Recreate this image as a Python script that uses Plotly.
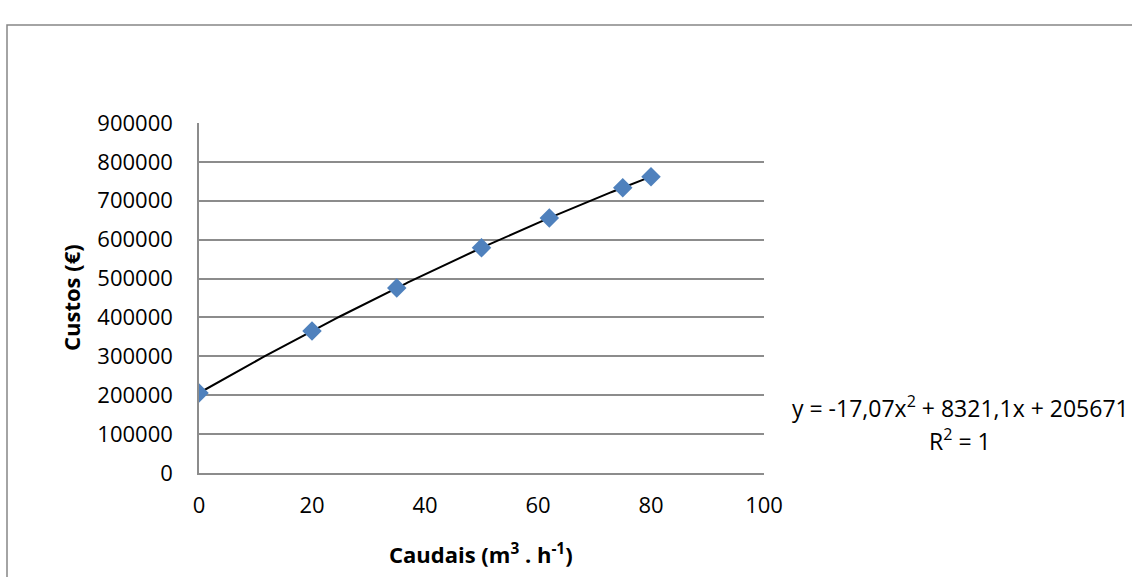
import numpy as np
import plotly.graph_objects as go

# Data
caudais = [0, 20, 35, 50, 62, 75, 80]
custos = [205700, 365300, 476000, 579000, 656000, 733700, 762100]

# Trendline coefficients shown on the chart (a*x^2 + b*x + c)
trend_coef = [-17.07, 8321.1, 205671]
eq_label = "y = -17,07x<sup>2</sup> + 8321,1x + 205671"
r2_label = "R<sup>2</sup> = 1"

x_ticks = [0, 20, 40, 60, 80, 100]
y_ticks = [0, 100000, 200000, 300000, 400000, 500000, 600000, 700000, 800000, 900000]

W, H = 1132, 577
L, R, T, B = 199, 368, 123, 104
pw, ph = W - L - R, H - T - B

def px(xp):
    return (xp - L) / pw

def py(yp):
    return (H - B - yp) / ph

FONT = "Open Sans"
GRID = "#8c8c8c"

tx = np.linspace(min(caudais), max(caudais), 200)
ty = np.polyval(trend_coef, tx)

fig = go.Figure()
fig.add_trace(go.Scatter(x=tx, y=ty, mode="lines",
                         line=dict(color="black", width=2),
                         showlegend=False, hoverinfo="skip"))
fig.add_trace(go.Scatter(x=caudais, y=custos, mode="markers",
                         marker=dict(symbol="diamond", size=15, color="#4F81BD",
                                     line=dict(width=0)),
                         showlegend=False))

fig.update_layout(
    width=W, height=H,
    margin=dict(l=L, r=R, t=T, b=B, pad=0),
    paper_bgcolor="white", plot_bgcolor="white",
    font=dict(family=FONT, size=22, color="black"),
    xaxis=dict(range=[0, 100], tickvals=x_ticks, ticktext=[str(v) for v in x_ticks],
               showgrid=False, zeroline=False, showline=True, linecolor=GRID, linewidth=1.5,
               ticks="", ticklabelstandoff=12, fixedrange=True),
    yaxis=dict(range=[0, 900000], tickvals=y_ticks, ticktext=[str(v) for v in y_ticks],
               showgrid=True, gridcolor=GRID, gridwidth=1.5, zeroline=False,
               showline=True, linecolor=GRID, linewidth=1.5,
               ticks="", ticklabelstandoff=20, fixedrange=True),
    shapes=[dict(type="rect", xref="paper", yref="paper",
                 x0=px(7), x1=px(W + 20), y0=py(H + 20), y1=py(25),
                 line=dict(color="#868686", width=1.5), fillcolor="rgba(0,0,0,0)",
                 layer="below")],
    annotations=[
        dict(text="<b>Custos (€)</b>", xref="paper", yref="paper",
             x=px(71), y=py(298), textangle=-90, showarrow=False,
             xanchor="center", yanchor="middle", font=dict(size=22)),
        dict(text="<b>Caudais (m<sup>3</sup> . h<sup>-1</sup>)</b>", xref="paper", yref="paper",
             x=px(481), y=py(553), showarrow=False,
             xanchor="center", yanchor="middle", font=dict(size=22)),
        dict(text=eq_label, xref="paper", yref="paper",
             x=px(960), y=py(407), showarrow=False,
             xanchor="center", yanchor="middle", font=dict(size=23)),
        dict(text=r2_label, xref="paper", yref="paper",
             x=px(960), y=py(440), showarrow=False,
             xanchor="center", yanchor="middle", font=dict(size=23)),
    ],
)

fig.write_html("out.html")
